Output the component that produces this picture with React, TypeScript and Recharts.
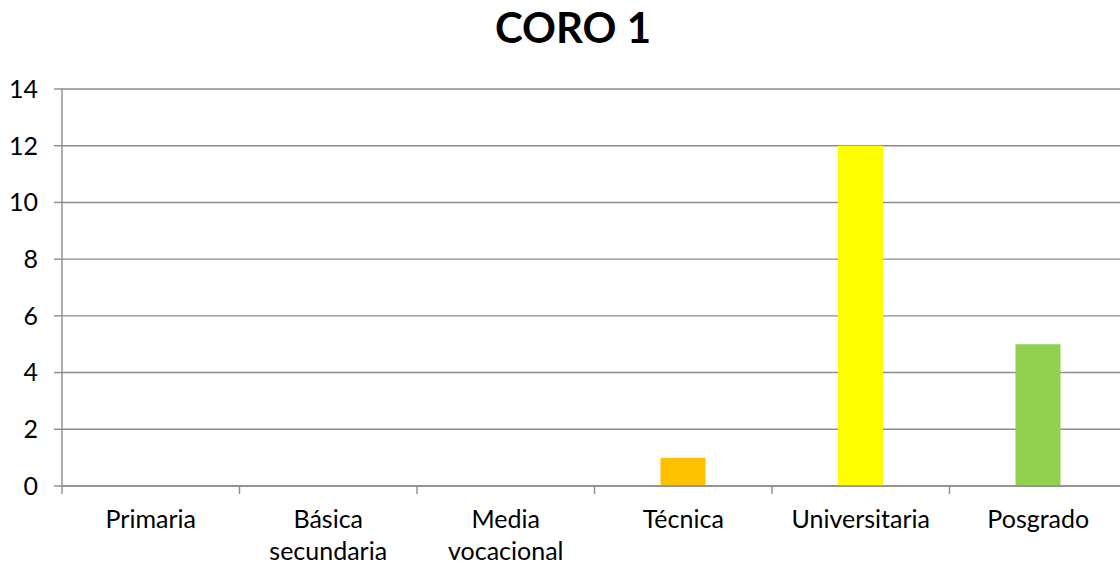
import { BarChart, Bar, XAxis, YAxis, CartesianGrid, Cell } from 'recharts'

const CATEGORIES = ['Primaria', 'Básica\nsecundaria', 'Media\nvocacional', 'Técnica', 'Universitaria', 'Posgrado']
const VALUES = [0, 0, 0, 1, 12, 5]
const BAR_COLORS = ['#4F81BD', '#C0504D', '#9BBB59', '#FFC000', '#FFFF00', '#92D050']
const Y_TICKS = [0, 2, 4, 6, 8, 10, 12, 14]

const FONT = 'Lato, "Open Sans", sans-serif'
const GRID = '#8C8C8C'

const data = CATEGORIES.map((name, i) => ({ name, value: VALUES[i] }))

// category label, plus Excel-style tick marks on the band edges
function CatTick({ x, y, payload, index, visibleTicksCount }: any) {
  const lines = String(payload.value).split('\n')
  const half = payload.offset ?? 0
  const last = index === visibleTicksCount - 1
  return (
    <g>
      <line x1={x - half} x2={x - half} y1={y} y2={y + 8} stroke={GRID} strokeWidth={1.4} />
      {last && <line x1={x + half} x2={x + half} y1={y} y2={y + 8} stroke={GRID} strokeWidth={1.4} />}
      <text x={x} y={y + 42} textAnchor="middle" fill="#000" fontSize={25} fontFamily={FONT}>
        {lines.map((l, i) => (
          <tspan key={i} x={x} dy={i === 0 ? 0 : 32}>
            {l}
          </tspan>
        ))}
      </text>
    </g>
  )
}

export default function App() {
  return (
    <div
      style={{
        position: 'fixed',
        left: 0,
        top: 0,
        width: 1120,
        height: 567,
        overflow: 'hidden',
        background: '#fff',
      }}
    >
      <div
        style={{
          position: 'absolute',
          left: 0,
          top: 6,
          width: 1146,
          textAlign: 'center',
          fontFamily: FONT,
          fontWeight: 700,
          fontSize: 42,
          lineHeight: 1,
          color: '#000',
        }}
      >
        CORO 1
      </div>
      <BarChart
        width={1146}
        height={567}
        data={data}
        margin={{ top: 89, right: 19, bottom: 11, left: 0 }}
        style={{ position: 'absolute', left: 0, top: 0 }}
      >
        <CartesianGrid vertical={false} stroke={GRID} strokeWidth={1.4} />
        <XAxis
          dataKey="name"
          height={70}
          axisLine={{ stroke: GRID, strokeWidth: 1.4 }}
          tickLine={false}
          tickSize={0}
          tickMargin={0}
          interval={0}
          tick={<CatTick />}
        />
        <YAxis
          domain={[0, 14]}
          ticks={Y_TICKS}
          width={62}
          tickSize={8}
          tickMargin={16}
          axisLine={{ stroke: GRID, strokeWidth: 1.4 }}
          tickLine={{ stroke: GRID, strokeWidth: 1.4 }}
          tick={{ fill: '#000', fontSize: 25, fontFamily: FONT }}
        />
        <Bar dataKey="value" barSize={45} isAnimationActive={false}>
          {data.map((_, i) => (
            <Cell key={i} fill={BAR_COLORS[i]} />
          ))}
        </Bar>
      </BarChart>
    </div>
  )
}
